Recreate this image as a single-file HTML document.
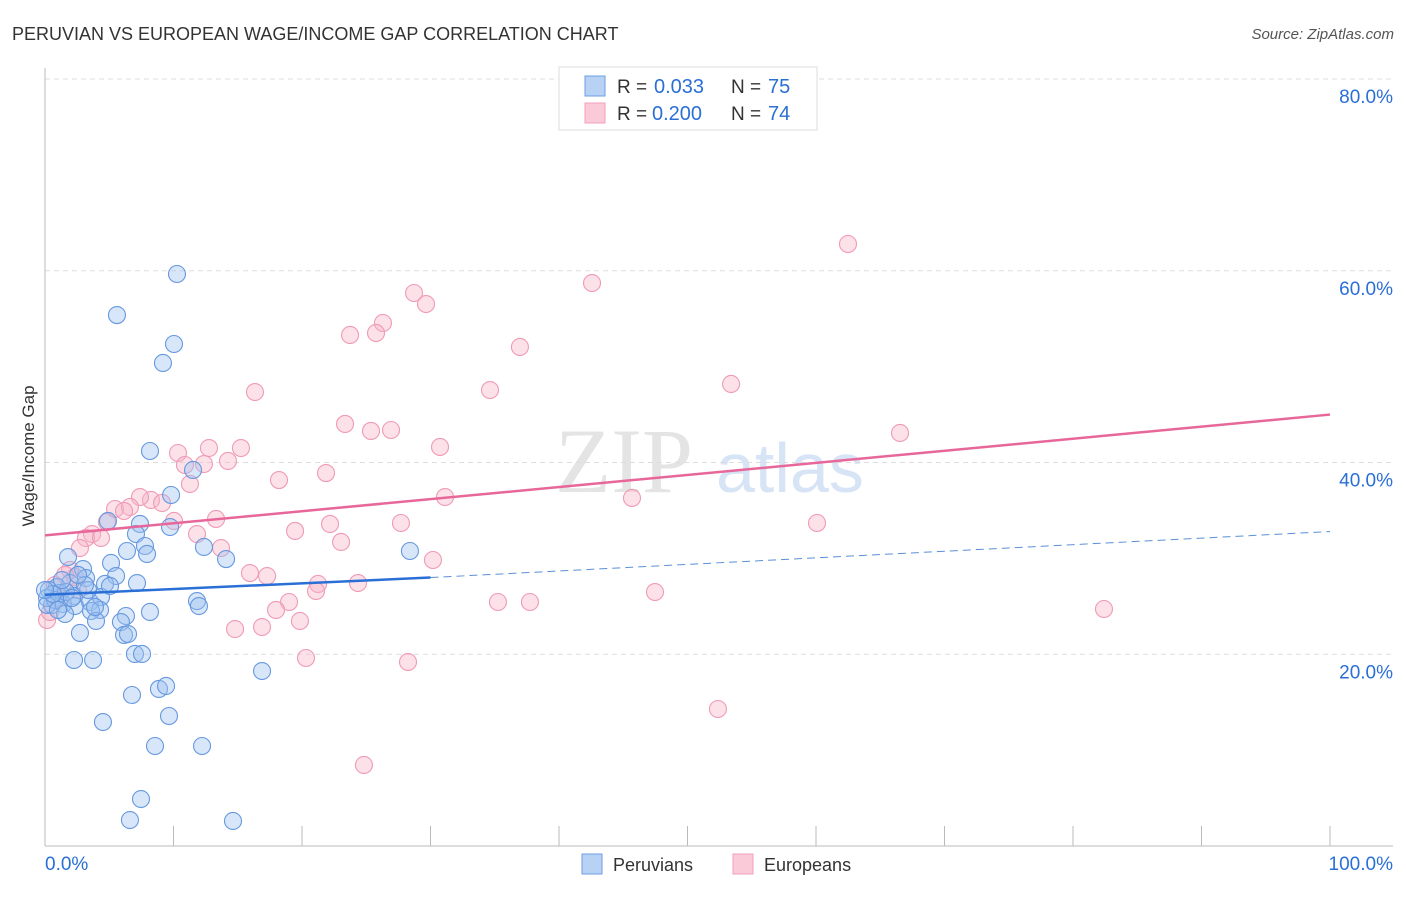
<!DOCTYPE html>
<html><head><meta charset="utf-8"><style>
body{margin:0;background:#fff;font-family:"Liberation Sans",sans-serif}
</style></head><body>
<svg id="chart" width="1406" height="892" xmlns="http://www.w3.org/2000/svg">
<text x="12" y="40" font-size="18" fill="#333">PERUVIAN VS EUROPEAN WAGE/INCOME GAP CORRELATION CHART</text>
<text x="1394" y="39" font-size="15" fill="#555" font-style="italic" text-anchor="end">Source: ZipAtlas.com</text>
<text x="555" y="492" font-size="92" fill="#e4e4e4" font-family="Liberation Serif,serif">ZIP</text>
<text x="716" y="492" font-size="70" fill="#d6e4f5">atlas</text>
<g id="grid"></g><g id="pts"></g><g id="lines"></g>
<text x="34" y="456" font-size="17" fill="#333" text-anchor="middle" transform="rotate(-90 34 456)">Wage/Income Gap</text>
<g>
<rect x="559" y="67" width="258" height="63" fill="#fff" stroke="#ddd"/>
<rect x="585" y="76" width="20" height="20" fill="#b8d2f5" stroke="#6a9fe0"/>
<text x="617" y="93" font-size="19" fill="#333">R =</text><text x="654" y="93" font-size="20" fill="#2a6fd6">0.033</text>
<text x="731" y="93" font-size="19" fill="#333">N =</text><text x="768" y="93" font-size="20" fill="#2a6fd6">75</text>
<rect x="585" y="103" width="20" height="20" fill="#fbcad8" stroke="#f0a0bb"/>
<text x="617" y="120" font-size="19" fill="#333">R =</text><text x="652" y="120" font-size="20" fill="#2a6fd6">0.200</text>
<text x="731" y="120" font-size="19" fill="#333">N =</text><text x="768" y="120" font-size="20" fill="#2a6fd6">74</text>
</g>
<g>
<rect x="582" y="854" width="20" height="20" fill="#b8d2f5" stroke="#6a9fe0"/>
<text x="613" y="871" font-size="18" fill="#333">Peruvians</text>
<rect x="733" y="854" width="20" height="20" fill="#fbcad8" stroke="#f0a0bb"/>
<text x="764" y="871" font-size="18" fill="#333">Europeans</text>
</g>
</svg>
<script>
const xTicks=[0,10,20,30,40,50,60,70,80,90,100];
const yTicks=[20,40,60,80];
const bluePx=[[177,274],[117,315],[174,344],[163,363],[150,451],[171,495],[193,470],[108,521],[140,524],[170,527],[136,534],[145,546],[204,547],[127,551],[147,554],[226,559],[410,551],[68,557],[111,563],[83,569],[116,576],[137,583],[105,584],[86,578],[70,583],[57,587],[49,590],[60,593],[74,596],[90,602],[101,597],[63,604],[52,605],[47,598],[75,606],[100,610],[91,611],[126,616],[150,612],[197,601],[199,606],[96,621],[121,622],[80,633],[124,635],[128,634],[262,671],[74,660],[93,660],[135,654],[142,654],[159,689],[166,686],[132,695],[169,716],[103,722],[155,746],[202,746],[141,799],[130,820],[233,821],[65,614],[55,600],[47,605],[110,586],[88,590],[66,592],[72,598],[53,594],[58,610],[85,585],[95,607],[45,590],[62,580],[78,575]];
const pinkPx=[[848,244],[592,283],[414,293],[426,304],[383,323],[376,333],[350,335],[520,347],[731,384],[490,390],[255,392],[345,424],[371,431],[391,430],[900,433],[440,447],[209,448],[241,448],[178,453],[228,461],[185,465],[204,464],[326,473],[190,484],[279,480],[445,497],[632,498],[151,500],[162,503],[140,497],[115,509],[130,507],[124,511],[174,521],[216,519],[401,523],[330,524],[817,523],[107,522],[295,531],[197,534],[92,534],[86,538],[101,538],[341,542],[221,548],[80,548],[433,560],[250,573],[267,576],[358,583],[318,584],[316,591],[75,577],[70,570],[289,602],[276,610],[300,621],[498,602],[530,602],[655,592],[1104,609],[235,629],[262,627],[306,658],[408,662],[718,709],[364,765],[47,620],[50,612],[60,598],[78,590],[65,575],[55,585]];
const blueX=bluePx.map(p=>+((p[0]-45)/12.85).toFixed(2)), blueY=bluePx.map(p=>+((846-p[1])/9.5875).toFixed(2));
const pinkX=pinkPx.map(p=>+((p[0]-45)/12.85).toFixed(2)), pinkY=pinkPx.map(p=>+((846-p[1])/9.5875).toFixed(2));
const blueTrend=[[0,26.2],[30,28.0],[100,32.8]];
const pinkTrend=[[0,32.4],[100,45.0]];
const X=v=>45+v*12.85, Y=v=>846-v*9.5875;
const NS="http://www.w3.org/2000/svg";
function mk(tag,attrs,parent){const e=document.createElementNS(NS,tag);for(const k in attrs)e.setAttribute(k,attrs[k]);document.getElementById(parent).appendChild(e);return e;}
const g='grid';
yTicks.forEach(t=>{
 const l=mk('line',{x1:45,x2:1393,y1:Y(t),y2:Y(t),stroke:'#ddd','stroke-dasharray':'5,4'},g);
 
 
 const tx=mk('text',{x:1393,y:Y(t)+24,'font-size':19,fill:'#2a6fd6','text-anchor':'end'},g);tx.textContent=t.toFixed(1)+'%';
 
 
});
mk('line',{x1:45,x2:45,y1:68,y2:846,stroke:'#bbb'},g);
mk('line',{x1:45,x2:1393,y1:846,y2:846,stroke:'#bbb'},g);
xTicks.forEach(t=>{const l=mk('line',{x1:X(t),x2:X(t),y1:826,y2:846,stroke:'#bbb'},g);
 
 });
let a=mk('text',{x:45,y:870,'font-size':19,fill:'#2a6fd6'},g);a.textContent='0.0%';


a=mk('text',{x:1393,y:870,'font-size':19,fill:'#2a6fd6','text-anchor':'end'},g);a.textContent='100.0%';


function pts(xs,ys,fill,stroke,name){xs.forEach((x,i)=>{const c=mk('circle',{cx:X(x),cy:Y(ys[i]),r:8.5,fill:fill,'fill-opacity':0.4,stroke:stroke,'stroke-width':1.1},'pts');
 
 });}
pts(pinkX,pinkY,'#f7b5c9','#ef9ab6','european-point');
pts(blueX,blueY,'#9cc0f0','#6698df','peruvian-point');
let bl=mk('line',{x1:X(blueTrend[0][0]),y1:Y(blueTrend[0][1]),x2:X(blueTrend[1][0]),y2:Y(blueTrend[1][1]),stroke:'#2a6fd6','stroke-width':2.5},'lines');


bl=mk('line',{x1:X(blueTrend[1][0]),y1:Y(blueTrend[1][1]),x2:X(blueTrend[2][0]),y2:Y(blueTrend[2][1]),stroke:'#5b8fd6','stroke-width':1,'stroke-dasharray':'8,5'},'lines');


bl=mk('line',{x1:X(pinkTrend[0][0]),y1:Y(pinkTrend[0][1]),x2:X(pinkTrend[1][0]),y2:Y(pinkTrend[1][1]),stroke:'#e8679a','stroke-width':2.5},'lines');


</script>
</body></html>
